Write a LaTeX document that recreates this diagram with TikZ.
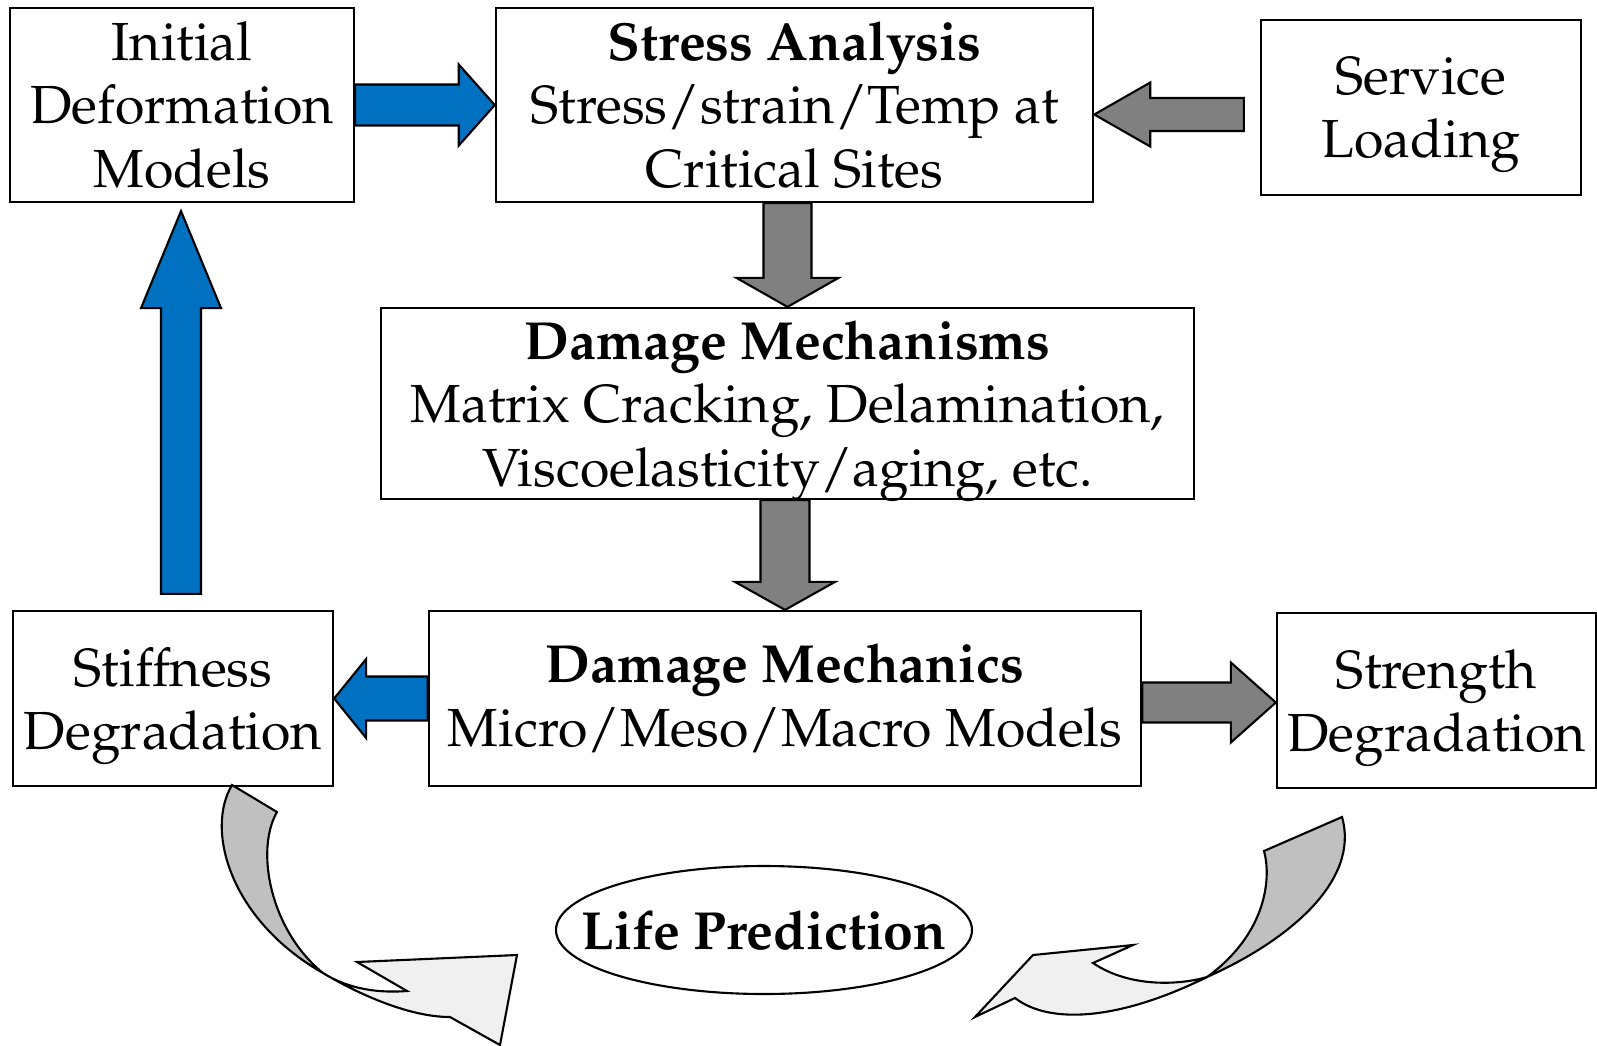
\documentclass[tikz,border=0pt]{standalone}
\usepackage[T1]{fontenc}
\usepackage{mathpazo}
\usetikzlibrary{positioning,calc,shapes.geometric}
\definecolor{arrowblue}{HTML}{0070C0}
\definecolor{arrowgray}{HTML}{808080}
\definecolor{curvedark}{HTML}{C0C0C0}
\definecolor{curvelight}{HTML}{F0F0F0}
\newcommand{\blockarrow}[6]{%
  \coordinate (ba) at ($(#3)!#6!(#2)$);
  \filldraw[#1] ($(#2)!#4!90:(#3)$) -- ($(ba)!#4!90:(#3)$) -- ($(ba)!#5!90:(#3)$) -- (#3)
    -- ($(ba)!#5!-90:(#3)$) -- ($(ba)!#4!-90:(#3)$) -- ($(#2)!#4!-90:(#3)$) -- cycle;}

\begin{document}
\begin{tikzpicture}[x=0.01cm,y=-0.01cm,
      box/.style={draw,line width=0.6pt,align=center,inner sep=0pt,
        font=\fontsize{15.25}{18.1}\selectfont},
      bluearrow/.style={draw=black,fill=arrowblue,line width=0.6pt},
      grayarrow/.style={draw=black,fill=arrowgray,line width=0.6pt},
      ribbon/.style={draw=black,line width=0.6pt}]
      \useasboundingbox (0,0) rectangle (1597,1045);
      \node[box,minimum width=3.44cm,minimum height=1.94cm] (init) at (182,105) {Initial\\Deformation\\Models};
      \node[box,minimum width=5.97cm,minimum height=1.94cm] (stress) at (794.5,105) {\textbf{Stress Analysis}\\Stress/strain/Temp at\\Critical Sites};
      \node[box,text depth=0pt,minimum width=3.20cm,minimum height=1.75cm] (service) at (1421,107.5) {Service\\Loading};
      \node[box,text depth=0pt,minimum width=8.13cm,minimum height=1.91cm] (mechs) at (787.5,403.5) {\textbf{Damage Mechanisms}\\Matrix Cracking, Delamination,\\Viscoelasticity/aging, etc.};
      \node[box,text depth=2pt,minimum width=7.12cm,minimum height=1.75cm] (mechanics) at (785,698.5) {\textbf{Damage Mechanics}\\Micro/Meso/Macro Models};
      \node[box,text depth=0pt,minimum width=3.20cm,minimum height=1.75cm] (stiff) at (173,698.5) {Stiffness\\Degradation};
      \node[box,text depth=0pt,minimum width=3.19cm,minimum height=1.75cm] (strength) at (1436.5,700.5) {Strength\\Degradation};
      \node[box,draw=none] (life) at (764,930) {\textbf{Life Prediction}};
      \draw[line width=0.6pt] (life.center) ellipse [x radius=208, y radius=64];
      \coordinate (loadtail) at ($(service.west)+(-16,7)$);
      \coordinate (loadtip) at (stress.east |- loadtail);
      \coordinate (uptail) at ($(stiff.north)+(8,-16)$);
      \coordinate (uptip) at ($(init.south)+(-1,8)$);
      \coordinate (rtail) at ($(mechanics.east)+(0,4)$);
      \coordinate (rtip) at (strength.west |- rtail);
      \blockarrow{bluearrow}{init.east}{stress.west}{0.205cm}{0.405cm}{0.36cm}
      \blockarrow{grayarrow}{loadtail}{loadtip}{0.165cm}{0.32cm}{0.56cm}
      \blockarrow{grayarrow}{mechs.north |- stress.south}{mechs.north}{0.24cm}{0.51cm}{0.29cm}
      \blockarrow{grayarrow}{mechanics.north |- mechs.south}{mechanics.north}{0.245cm}{0.50cm}{0.28cm}
      \blockarrow{bluearrow}{mechanics.west}{stiff.east}{0.22cm}{0.395cm}{0.32cm}
      \blockarrow{grayarrow}{rtail}{rtip}{0.20cm}{0.40cm}{0.45cm}
      \blockarrow{bluearrow}{uptail}{uptip}{0.20cm}{0.40cm}{0.97cm}
      \filldraw[ribbon,fill=curvedark] (232,785) .. controls (205,830) and (230,920) .. (323,973)
        .. controls (270,930) and (255,850) .. (277,812) -- cycle;
      \filldraw[ribbon,fill=curvelight] (323,973) .. controls (350,990) and (380,993) .. (407,991)
        -- (357,962) -- (517,955) -- (500,1045) -- (450,1017)
        .. controls (410,1017) and (360,995) .. (323,973) -- cycle;
      \filldraw[ribbon,fill=curvedark] (1342,817) -- (1264,851) .. controls (1272,880) and (1265,935) .. (1207,977)
        .. controls (1290,940) and (1360,880) .. (1342,817) -- cycle;
      \filldraw[ribbon,fill=curvelight] (1207,977) .. controls (1180,985) and (1130,988) .. (1093,963)
        -- (1133,945) -- (1033,955) -- (975,1017) -- (1015,998)
        .. controls (1050,1025) and (1120,1020) .. (1207,977) -- cycle;
    \end{tikzpicture}
\end{document}
